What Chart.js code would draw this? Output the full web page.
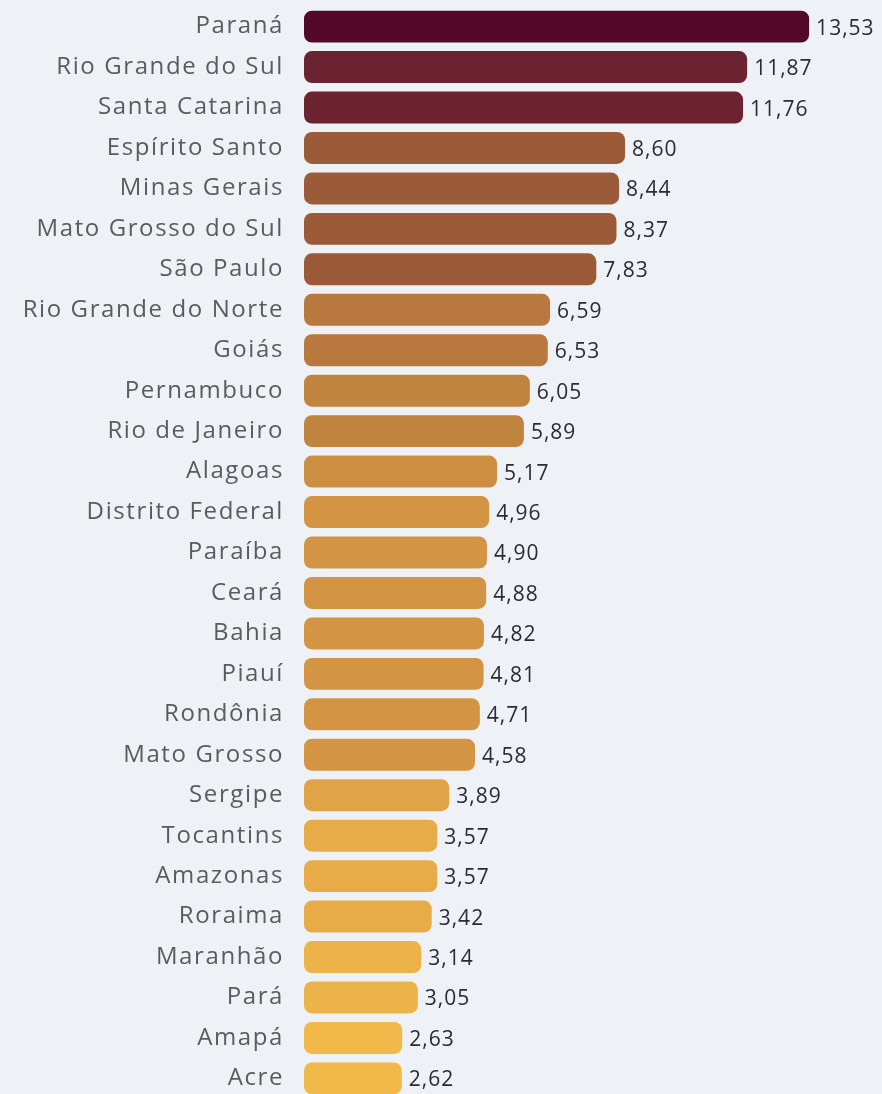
<!DOCTYPE html>
<html>
<head>
<meta charset="utf-8">
<script src="https://cdn.jsdelivr.net/npm/chart.js@4"></script>
<style>
  html, body { margin: 0; padding: 0; background: #eef2f6; overflow: hidden; }
  canvas { display: block; margin-top: -20px; }
</style>
</head>
<body>
<canvas id="chart" width="882" height="1145"></canvas>
<script>
const states = ['Paraná', 'Rio Grande do Sul', 'Santa Catarina', 'Espírito Santo', 'Minas Gerais',
    'Mato Grosso do Sul', 'São Paulo', 'Rio Grande do Norte', 'Goiás', 'Pernambuco', 'Rio de Janeiro',
    'Alagoas', 'Distrito Federal', 'Paraíba', 'Ceará', 'Bahia', 'Piauí', 'Rondônia', 'Mato Grosso',
    'Sergipe', 'Tocantins', 'Amazonas', 'Roraima', 'Maranhão', 'Pará', 'Amapá', 'Acre'];
const values = [13.53, 11.87, 11.76, 8.60, 8.44, 8.37, 7.83, 6.59, 6.53, 6.05, 5.89, 5.17, 4.96,
    4.90, 4.88, 4.82, 4.81, 4.71, 4.58, 3.89, 3.57, 3.57, 3.42, 3.14, 3.05, 2.63, 2.62];
const barColors = ['#520826', '#6b2231', '#6b2231', '#9b5a38', '#9b5a38', '#9b5a38', '#9b5a38',
    '#b8783e', '#b8783e', '#c0843f', '#c0843f', '#cc8f42', '#d39543', '#d39543', '#d39543',
    '#d39543', '#d39543', '#d39543', '#d39543', '#e0a447', '#e7ab48', '#e7ab48', '#e7ab48',
    '#ecb34a', '#ecb34a', '#f1b84a', '#f1b84a'];

// wider letter spacing for the state names
const spacing = {
    id: 'spacing',
    beforeDraw(chart) { chart.ctx.letterSpacing = '1.6px'; },
    afterDraw(chart) { chart.ctx.letterSpacing = '0px'; }
};

const valueLabels = {
    id: 'valueLabels',
    afterDatasetsDraw(chart) {
        const ctx = chart.ctx;
        const meta = chart.getDatasetMeta(0);
        ctx.save();
        ctx.letterSpacing = '1px';
        ctx.font = '21px "Open Sans"';
        ctx.fillStyle = '#2b2b36';
        ctx.textAlign = 'left';
        ctx.textBaseline = 'middle';
        meta.data.forEach((bar, i) => {
            ctx.fillText(values[i].toFixed(2).replace('.', ','), bar.x + 7, bar.y + 2);
        });
        ctx.restore();
    }
};

new Chart(document.getElementById('chart').getContext('2d'), {
    type: 'bar',
    data: {
        labels: states,
        datasets: [{
            data: values,
            backgroundColor: barColors,
            borderRadius: 8,
            borderSkipped: false,
            categoryPercentage: 0.79,
            barPercentage: 1
        }]
    },
    options: {
        indexAxis: 'y',
        responsive: false,
        animation: false,
        layout: { padding: { top: 6, bottom: 2, right: 18, left: 0 } },
        plugins: {
            legend: { display: false },
            tooltip: { enabled: false }
        },
        scales: {
            x: {
                min: 0,
                max: 15,
                display: false
            },
            y: {
                grid: { display: false },
                border: { display: false },
                afterFit(scale) { scale.width = 304; },
                ticks: {
                    color: '#5b5b5b',
                    padding: 12,
                    autoSkip: false,
                    font: { family: 'Open Sans', size: 24 }
                }
            }
        }
    },
    plugins: [spacing, valueLabels]
});
</script>
</body>
</html>
